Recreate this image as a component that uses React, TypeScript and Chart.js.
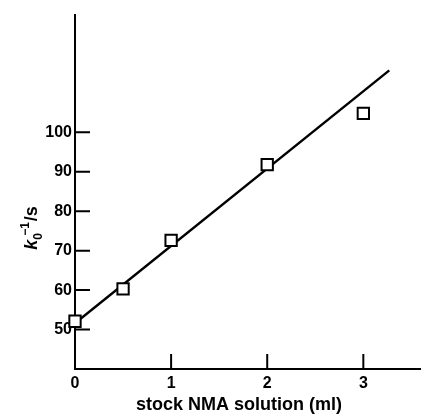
import React, { useEffect, useRef } from "react";
import { Chart, registerables } from "chart.js";
Chart.register(...registerables);

// Data
const volumes = [0, 0.5, 1, 2, 3];
const invK = [52.1, 60.3, 72.6, 91.8, 104.8];
const fitX = [0, 3.27];
const fitY = [51.6, 115.7];
const xTicks = [0, 1, 2, 3];
const yTicks = [50, 60, 70, 80, 90, 100];
const xMin = 0;
const xMax = 3.6;
const yMin = 40;
const yMax = 130;
const xTitle = "stock NMA solution (ml)";

const FONT = '"Liberation Sans", Arial, sans-serif';

const axesPlugin = {
  id: "axesPlugin",
  beforeDatasetsDraw(chart: any) {
    const { ctx, chartArea: a, scales } = chart;
    const x = scales.x;
    const y = scales.y;
    ctx.save();
    ctx.strokeStyle = "#000";
    ctx.lineWidth = 2;
    ctx.lineCap = "butt";
    ctx.lineJoin = "miter";
    ctx.beginPath();
    ctx.moveTo(a.left, a.top);
    ctx.lineTo(a.left, a.bottom);
    ctx.lineTo(a.right, a.bottom);
    for (const v of yTicks) {
      const py = y.getPixelForValue(v);
      ctx.moveTo(a.left, py);
      ctx.lineTo(a.left + 15, py);
    }
    for (const v of xTicks) {
      const px = x.getPixelForValue(v);
      ctx.moveTo(px, a.bottom);
      ctx.lineTo(px, a.bottom - 15);
    }
    ctx.stroke();
    ctx.restore();
  },
  afterDraw(chart: any) {
    const { ctx, chartArea: a } = chart;
    ctx.save();
    ctx.fillStyle = "#000";
    // x title
    ctx.font = `bold 18px ${FONT}`;
    ctx.textAlign = "center";
    ctx.textBaseline = "alphabetic";
    ctx.fillText(xTitle, a.left + 164, 410);

    // y title: k_0^{-1}/s rotated
    ctx.translate(37, 228);
    ctx.rotate(-Math.PI / 2);
    ctx.textAlign = "left";
    const bigI = `italic bold 18px ${FONT}`;
    const big = `bold 18px ${FONT}`;
    const small = `bold 12px ${FONT}`;
    ctx.font = bigI;
    const wK = ctx.measureText("k").width;
    ctx.font = small;
    const w0 = ctx.measureText("0").width;
    const wM = ctx.measureText("\u22121").width;
    ctx.font = big;
    const wS = ctx.measureText("/s").width;
    const supStart = wK + w0 * 0.6;
    const total = Math.max(wK + w0, supStart + wM) + 1 + wS;
    let x0 = -total / 2;
    ctx.font = bigI;
    ctx.fillText("k", x0, 0);
    ctx.font = small;
    ctx.fillText("0", x0 + wK, 5);
    ctx.fillText("\u22121", x0 + supStart, -8);
    ctx.font = big;
    ctx.fillText("/s", x0 + Math.max(wK + w0, supStart + wM) + 1, 0);
    ctx.restore();
  },
};

export default function App() {
  const ref = useRef<HTMLCanvasElement | null>(null);
  useEffect(() => {
    if (!ref.current) return;
    const chart = new Chart(ref.current, {
      type: "scatter",
      data: {
        datasets: [
          {
            type: "scatter",
            data: volumes.map((v, i) => ({ x: v, y: invK[i] })),
            pointStyle: "rect",
            pointRadius: 8,
            pointHoverRadius: 8,
            borderWidth: 2,
            borderColor: "#000",
            backgroundColor: "#fff",
            clip: false,
            order: 0,
          } as any,
          {
            type: "line",
            data: fitX.map((v, i) => ({ x: v, y: fitY[i] })),
            borderColor: "#000",
            borderWidth: 2.4,
            pointRadius: 0,
            fill: false,
            tension: 0,
            clip: false,
            order: 1,
          } as any,
        ],
      },
      options: {
        responsive: false,
        animation: false,
        events: [],
        layout: { autoPadding: false, padding: { top: 14, right: 3, left: 0, bottom: 0 } },
        plugins: { legend: { display: false }, tooltip: { enabled: false } },
        scales: {
          x: {
            type: "linear",
            min: xMin,
            max: xMax,
            grid: { display: false, drawTicks: false },
            border: { display: false },
            afterBuildTicks: (s: any) => {
              s.ticks = xTicks.map((v) => ({ value: v }));
            },
            afterFit: (s: any) => {
              s.height = 45;
              s.paddingLeft = 0;
              s.paddingRight = 0;
            },
            ticks: {
              color: "#000",
              font: { family: FONT, size: 16, weight: "bold" },
              padding: 5,
              maxRotation: 0,
              callback: (v: any) => String(v),
            },
          },
          y: {
            type: "linear",
            min: yMin,
            max: yMax,
            grid: { display: false, drawTicks: false },
            border: { display: false },
            afterBuildTicks: (s: any) => {
              s.ticks = yTicks.map((v) => ({ value: v }));
            },
            afterFit: (s: any) => {
              s.width = 75;
              s.paddingTop = 0;
              s.paddingBottom = 0;
            },
            ticks: {
              color: "#000",
              font: { family: FONT, size: 16, weight: "bold" },
              padding: 3,
              callback: (v: any) => String(v),
            },
          },
        },
      },
      plugins: [axesPlugin],
    } as any);
    return () => chart.destroy();
  }, []);
  return (
    <div style={{ position: "absolute", left: 0, top: 0, width: 424, height: 414, background: "#fff" }}>
      <canvas ref={ref} width={424} height={414} style={{ display: "block" }} />
    </div>
  );
}
